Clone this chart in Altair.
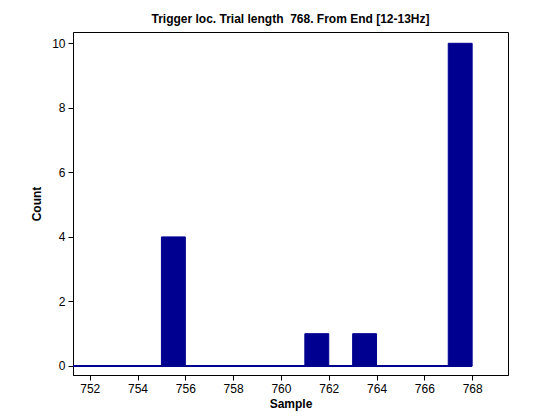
import pandas as pd
import altair as alt

bin_start = [755, 761, 763, 767]
counts = [4, 1, 1, 10]
zero_line = [751.3, 768]

bars = pd.DataFrame({"start": bin_start, "end": [b + 1 for b in bin_start], "count": counts})
base_df = pd.DataFrame({"x": [zero_line[0]], "x2": [zero_line[1]], "y": [0]})

xs = alt.Scale(domain=[751.3, 769.5], nice=False, zero=False)
ys = alt.Scale(domain=[-0.28, 10.35], nice=False)

bar = alt.Chart(bars).mark_rect(color="#000090", stroke="#000090", strokeWidth=1).encode(
    x=alt.X("start:Q", scale=xs, axis=alt.Axis(title="Sample", values=list(range(752, 769, 2)))),
    x2="end:Q",
    y=alt.Y("count:Q", scale=ys, axis=alt.Axis(title="Count", values=list(range(0, 11)))),
    y2=alt.datum(0),
)
line = alt.Chart(base_df).mark_rule(color="#000090", strokeWidth=2).encode(
    x=alt.X("x:Q", scale=xs), x2="x2:Q", y=alt.Y("y:Q", scale=ys)
)

chart = (line + bar).properties(
    width=435, height=343,
    title="Trigger loc. Trial length\u00a0 768. From End [12-13Hz]",
    autosize=alt.AutoSizeParams(type="none"),
    padding={"left": 65, "top": 24, "right": 40, "bottom": 45},
).configure_view(stroke="black", strokeWidth=1).configure_axis(
    grid=False, domainColor="black", tickColor="black", tickSize=5, labelColor="black",
    labelFont="Liberation Sans", labelFontSize=12, titleFont="Liberation Sans",
    titleFontSize=12, titleFontWeight="bold", titleColor="black", labelPadding=3,
    labelOverlap=False,
).configure_axisY(titlePadding=8).configure_title(
    font="Liberation Sans", fontSize=12, fontWeight="bold", color="black", offset=6
)

chart.save("out.html", embed_options={"renderer": "svg", "actions": False})
